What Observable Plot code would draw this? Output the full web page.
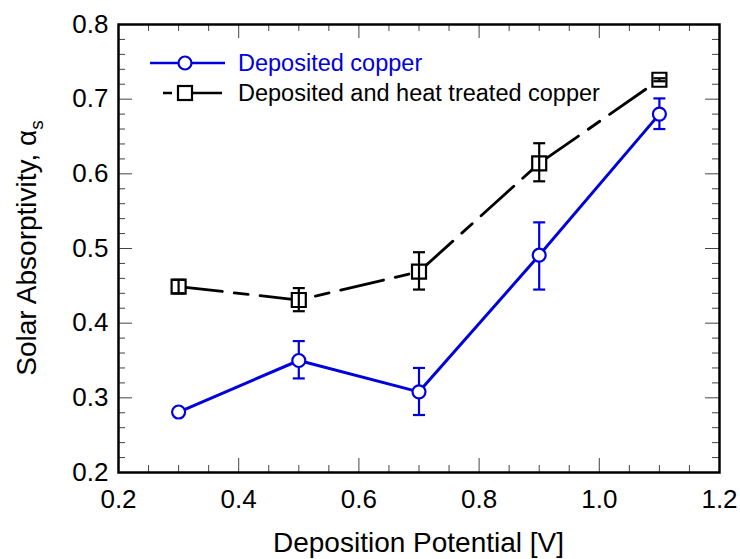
<!DOCTYPE html>
<html>
<head>
<meta charset="utf-8">
<script src="https://cdn.jsdelivr.net/npm/d3@7"></script>
<script src="https://cdn.jsdelivr.net/npm/@observablehq/plot@0.6"></script>
<style>
  html, body { margin: 0; padding: 0; background: #fff; }
</style>
</head>
<body>
<div id="chart"></div>
<script>
// Data
const potentials = [0.3, 0.5, 0.7, 0.9, 1.1];
const depositedY  = [0.281, 0.350, 0.308, 0.491, 0.680];
const depositedLo = [0.279, 0.326, 0.277, 0.445, 0.660];
const depositedHi = [0.284, 0.376, 0.340, 0.535, 0.701];
const heatY  = [0.449, 0.431, 0.469, 0.614, 0.726];
const heatLo = [0.440, 0.416, 0.445, 0.590, 0.724];
const heatHi = [0.458, 0.447, 0.495, 0.641, 0.728];

const seriesNames = ["Deposited copper", "Deposited and heat treated copper"];
const xTicks = [0.2, 0.4, 0.6, 0.8, 1.0, 1.2];
const xMinor = [0.25, 0.3, 0.35, 0.45, 0.5, 0.55, 0.65, 0.7, 0.75, 0.85, 0.9, 0.95, 1.05, 1.1, 1.15];
const yTicks = [0.2, 0.3, 0.4, 0.5, 0.6, 0.7, 0.8];
const yMinor = [0.22,0.24,0.26,0.28,0.32,0.34,0.36,0.38,0.42,0.44,0.46,0.48,0.52,0.54,0.56,0.58,0.62,0.64,0.66,0.68,0.72,0.74,0.76,0.78];
const xLabel = "Deposition Potential [V]";
const yLabel = "Solar Absorptivity, ";

const BLUE = "#0000dd";
const W = 740, H = 559;
const mL = 118, mR = 21, mT = 24, mB = 87;
const innerW = W - mL - mR, innerH = H - mT - mB;

const deposited = potentials.map((x, i) => ({x, y: depositedY[i], lo: depositedLo[i], hi: depositedHi[i]}));
const heat = potentials.map((x, i) => ({x, y: heatY[i], lo: heatLo[i], hi: heatHi[i]}));

const capSymbol = {
  draw(context, size) {
    const r = Math.sqrt(size / Math.PI);
    context.moveTo(-r, 0);
    context.lineTo(r, 0);
  }
};

const majLen = 14, minLen = 7;
const tickStyle = {stroke: "#444", strokeWidth: 1};

const plot = Plot.plot({
  width: W, height: H,
  marginLeft: mL, marginRight: mR, marginTop: mT, marginBottom: mB,
  style: {fontFamily: "'Liberation Sans', Arial, sans-serif", background: "white", color: "black"},
  x: {domain: [0.2, 1.2]},
  y: {domain: [0.2, 0.8]},
  marks: [
    // inward ticks
    Plot.tickX(xTicks, {x: d => d, insetTop: innerH - majLen, ...tickStyle}),
    Plot.tickX(xTicks, {x: d => d, insetBottom: innerH - majLen, ...tickStyle}),
    Plot.tickX(xMinor, {x: d => d, insetTop: innerH - minLen, ...tickStyle}),
    Plot.tickX(xMinor, {x: d => d, insetBottom: innerH - minLen, ...tickStyle}),
    Plot.tickY(yTicks, {y: d => d, insetRight: innerW - majLen, ...tickStyle}),
    Plot.tickY(yTicks, {y: d => d, insetLeft: innerW - majLen, ...tickStyle}),
    Plot.tickY(yMinor, {y: d => d, insetRight: innerW - minLen, ...tickStyle}),
    Plot.tickY(yMinor, {y: d => d, insetLeft: innerW - minLen, ...tickStyle}),
    Plot.axisX(xTicks, {tickSize: 0, tickPadding: 17, tickFormat: d3.format(".1f"), fontSize: 26, label: null}),
    Plot.axisY(yTicks, {tickSize: 0, tickPadding: 10, tickFormat: d3.format(".1f"), fontSize: 26, label: null}),
    // heat treated series
    Plot.line(heat, {x: "x", y: "y", stroke: "black", strokeWidth: 2.8, strokeDasharray: "44,12,14,12"}),
    Plot.dot(heat, {x: "x", y: "y", symbol: "square", r: 7.9, fill: "white", stroke: "black", strokeWidth: 2.2}),
    Plot.ruleX(heat, {x: "x", y1: "lo", y2: "hi", stroke: "black", strokeWidth: 2.2}),
    Plot.dot(heat, {x: "x", y: "lo", symbol: capSymbol, r: 6, fill: "none", stroke: "black", strokeWidth: 2.2}),
    Plot.dot(heat, {x: "x", y: "hi", symbol: capSymbol, r: 6, fill: "none", stroke: "black", strokeWidth: 2.2}),
    // deposited series
    Plot.line(deposited, {x: "x", y: "y", stroke: BLUE, strokeWidth: 3}),
    Plot.ruleX(deposited, {x: "x", y1: "lo", y2: "hi", stroke: BLUE, strokeWidth: 2.2}),
    Plot.dot(deposited, {x: "x", y: "lo", symbol: capSymbol, r: 6, fill: "none", stroke: BLUE, strokeWidth: 2.2}),
    Plot.dot(deposited, {x: "x", y: "hi", symbol: capSymbol, r: 6, fill: "none", stroke: BLUE, strokeWidth: 2.2}),
    Plot.dot(deposited, {x: "x", y: "y", symbol: "circle", r: 6.5, fill: "white", stroke: BLUE, strokeWidth: 2.2}),
    Plot.frame({stroke: "black", strokeWidth: 2.5})
  ]
});

const svg = d3.select(plot);
const font = "'Liberation Sans', Arial, sans-serif";

// x axis title
svg.append("text")
  .attr("x", mL + innerW / 2).attr("y", 552)
  .attr("text-anchor", "middle")
  .attr("font-family", font).attr("font-size", 28).attr("fill", "black")
  .text(xLabel);

// y axis title with alpha subscript s
const yt = svg.append("text")
  .attr("transform", `translate(36,${mT + innerH / 2}) rotate(-90)`)
  .attr("text-anchor", "middle")
  .attr("font-family", font).attr("font-size", 28).attr("fill", "black");
yt.append("tspan").text(yLabel);
yt.append("tspan").text("α");
yt.append("tspan").attr("font-size", 19).attr("dy", 7).text("s");

// legend
const lg = svg.append("g").attr("text-anchor", "start");
lg.append("line").attr("x1", 150).attr("x2", 225).attr("y1", 63).attr("y2", 63)
  .attr("stroke", BLUE).attr("stroke-width", 2.5);
lg.append("circle").attr("cx", 185).attr("cy", 63).attr("r", 6.5)
  .attr("fill", "white").attr("stroke", BLUE).attr("stroke-width", 2.2);
lg.append("text").attr("x", 238).attr("y", 63).attr("dy", "0.35em")
  .attr("text-anchor", "start")
  .attr("font-family", font).attr("font-size", 23.5).attr("fill", BLUE)
  .text(seriesNames[0]);
lg.append("line").attr("x1", 163).attr("x2", 172).attr("y1", 93).attr("y2", 93)
  .attr("stroke", "black").attr("stroke-width", 2.5);
lg.append("line").attr("x1", 178).attr("x2", 222).attr("y1", 93).attr("y2", 93)
  .attr("stroke", "black").attr("stroke-width", 2.5);
lg.append("rect").attr("x", 178).attr("y", 86).attr("width", 14).attr("height", 14)
  .attr("fill", "white").attr("stroke", "black").attr("stroke-width", 2.2);
lg.append("text").attr("x", 238).attr("y", 93).attr("dy", "0.35em")
  .attr("text-anchor", "start")
  .attr("font-family", font).attr("font-size", 23.5).attr("fill", "black")
  .text(seriesNames[1]);

document.getElementById("chart").appendChild(plot);
</script>
</body>
</html>
